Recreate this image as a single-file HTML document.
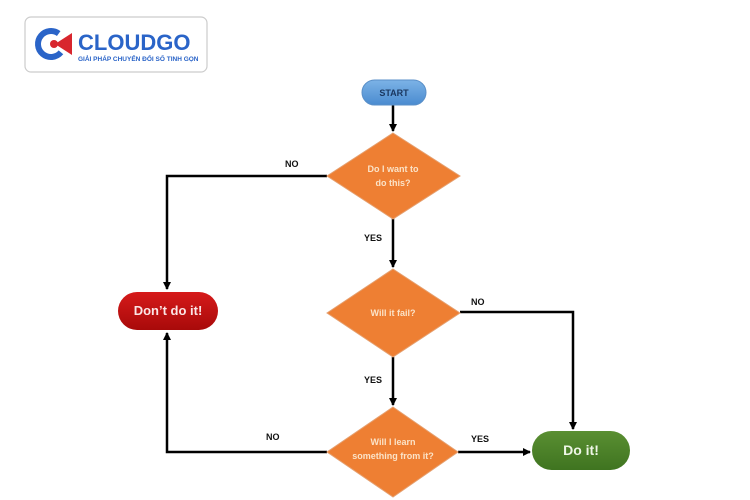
<!DOCTYPE html>
<html><head><meta charset="utf-8"><style>
html,body{margin:0;padding:0;background:#fff;width:750px;height:500px;overflow:hidden}
text{font-family:"Liberation Sans","DejaVu Sans",sans-serif;font-weight:bold}
</style></head><body>
<svg width="750" height="500" viewBox="0 0 750 500" xmlns="http://www.w3.org/2000/svg">
<defs>
<marker id="a" markerWidth="8" markerHeight="8" refX="7" refY="4" orient="auto" markerUnits="userSpaceOnUse"><path d="M0,0 L8,4 L0,8 z" fill="#000"/></marker>
<linearGradient id="bl" x1="0" y1="0" x2="0" y2="1"><stop offset="0" stop-color="#7cb3e6"/><stop offset="1" stop-color="#4a8bd0"/></linearGradient>
<linearGradient id="rd" x1="0" y1="0" x2="0" y2="1"><stop offset="0" stop-color="#d61a1a"/><stop offset="1" stop-color="#a80a0a"/></linearGradient>
<linearGradient id="gr" x1="0" y1="0" x2="0" y2="1"><stop offset="0" stop-color="#5a8f32"/><stop offset="1" stop-color="#3f7420"/></linearGradient>
</defs>
<!-- logo -->
<rect x="25" y="17" width="182" height="55" rx="6" fill="#fff" stroke="#ccc" stroke-width="1.2"/>
<circle cx="51" cy="44" r="13" fill="none" stroke="#2a64c8" stroke-width="6" stroke-dasharray="60 22" transform="rotate(40 51 44)"/>
<path d="M55,44 L72,33 L72,55 z" fill="#d8262e"/>
<circle cx="54" cy="44" r="4" fill="#d8262e"/>
<text x="78" y="50" font-size="22" fill="#2a64c8">CLOUDGO</text>
<text x="78" y="61" font-size="6.5" fill="#2a64c8">GIẢI PHÁP CHUYỂN ĐỔI SỐ TINH GỌN</text>
<!-- connectors -->
<g stroke="#000" stroke-width="2.5" fill="none">
<line x1="393" y1="105" x2="393" y2="131" marker-end="url(#a)"/>
<line x1="393" y1="218" x2="393" y2="267" marker-end="url(#a)"/>
<line x1="393" y1="357" x2="393" y2="405" marker-end="url(#a)"/>
<polyline points="327,176 167,176 167,289" marker-end="url(#a)"/>
<polyline points="460,312 573,312 573,429" marker-end="url(#a)"/>
<polyline points="327,452 167,452 167,333" marker-end="url(#a)"/>
<line x1="458" y1="452" x2="530" y2="452" marker-end="url(#a)"/>
</g>
<!-- nodes -->
<rect x="362" y="80" width="64" height="25" rx="12.5" fill="url(#bl)" stroke="#5a8fc8"/>
<text x="394" y="96" font-size="9" fill="#1a3760" text-anchor="middle">START</text>
<polygon points="393,133 460,176 393,219 327,176" fill="#ee7f33" stroke="#e5a070"/>
<text x="393" y="172" font-size="9" fill="#fbe3c8" text-anchor="middle">Do I want to</text>
<text x="393" y="186" font-size="9" fill="#fbe3c8" text-anchor="middle">do this?</text>
<polygon points="393,269 460,313 393,357 327,313" fill="#ee7f33" stroke="#e5a070"/>
<text x="393" y="316" font-size="9" fill="#fbe3c8" text-anchor="middle">Will it fail?</text>
<polygon points="393,407 458,452 393,497 327,452" fill="#ee7f33" stroke="#e5a070"/>
<text x="393" y="445" font-size="9" fill="#fbe3c8" text-anchor="middle">Will I learn</text>
<text x="393" y="459" font-size="9" fill="#fbe3c8" text-anchor="middle">something from it?</text>
<rect x="118" y="292" width="100" height="38" rx="19" fill="url(#rd)"/>
<text x="168" y="315" font-size="13" fill="#fbe5e5" text-anchor="middle">Don’t do it!</text>
<rect x="532" y="431" width="98" height="39" rx="19.5" fill="url(#gr)"/>
<text x="581" y="455" font-size="14" fill="#eef6e6" text-anchor="middle">Do it!</text>
<!-- labels -->
<g font-size="9" fill="#111">
<text x="285" y="167">NO</text>
<text x="364" y="241">YES</text>
<text x="471" y="305">NO</text>
<text x="364" y="383">YES</text>
<text x="266" y="440">NO</text>
<text x="471" y="442">YES</text>
</g>
</svg>
</body></html>
